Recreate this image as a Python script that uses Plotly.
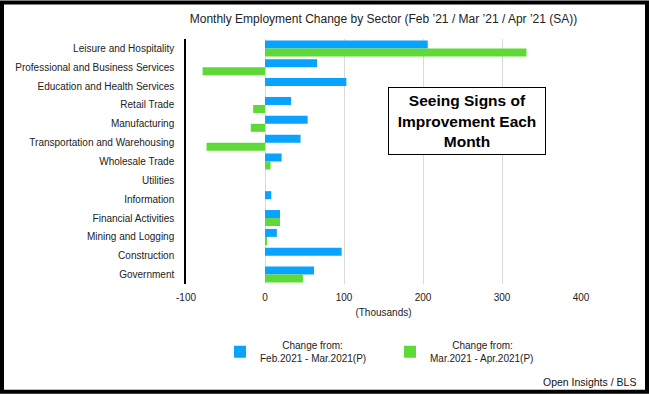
import plotly.graph_objects as go

categories = [
    "Leisure and Hospitality",
    "Professional and Business Services",
    "Education and Health Services",
    "Retail Trade",
    "Manufacturing",
    "Transportation and Warehousing",
    "Wholesale Trade",
    "Utilities",
    "Information",
    "Financial Activities",
    "Mining and Logging",
    "Construction",
    "Government",
]
feb_mar = [206, 66, 103, 33, 54, 45, 21, 0, 8, 19, 15, 97, 62]
mar_apr = [331, -79, 0, -15, -18, -74, 7, 0, 0, 19, 2, 0, 48]
x_ticks = [-100, 0, 100, 200, 300, 400]

FONT = "Liberation Sans, Arial, Helvetica, sans-serif"
W, H = 649, 394
L, R, T, B = 186, 68, 38.5, 110
PW, PH = W - L - R, H - T - B

def px_x(p):
    return (p - L) / PW

def px_y(p):
    return (H - B - p) / PH

NB = "\u00a0"
fig = go.Figure()
fig.add_trace(go.Bar(
    y=categories, x=feb_mar, orientation="h",
    name=NB * 8 + "Change from:<br>Feb.2021 - Mar.2021(P)",
    marker=dict(color="#08A2FF", line=dict(width=0)),
))
fig.add_trace(go.Bar(
    y=categories, x=mar_apr, orientation="h",
    name=NB * 8 + "Change from:<br>Mar.2021 - Apr.2021(P)",
    marker=dict(color="#5ED937", line=dict(width=0)),
))

fig.update_layout(
    width=W, height=H,
    margin=dict(l=L, r=R, t=T, b=B, autoexpand=False),
    paper_bgcolor="white", plot_bgcolor="white",
    font=dict(family=FONT, size=10, color="#222"),
    barmode="group", bargap=0.15, bargroupgap=0,
    title=dict(
        text="Monthly Employment Change by Sector (Feb \u201921 / Mar \u201921 / Apr \u201921 (SA))",
        font=dict(size=12, color="#222"),
        x=0.5, xref="paper", xanchor="center",
        y=1 - 19 / H, yref="container", yanchor="middle",
    ),
    xaxis=dict(
        range=[-100, 400], tickvals=x_ticks, ticktext=[str(v) for v in x_ticks],
        showgrid=True, gridcolor="#D9D9D9", gridwidth=1,
        zeroline=False, showline=False,
        ticks="", ticklabelstandoff=6,
        title=dict(text="(Thousands)", font=dict(size=10), standoff=6),
        fixedrange=True,
    ),
    yaxis=dict(
        autorange="reversed", showgrid=False, zeroline=False,
        showline=True, linecolor="black", linewidth=1.5,
        ticks="", ticklabelstandoff=8,
        fixedrange=True,
    ),
    legend=dict(
        orientation="h", x=px_x(220), xanchor="left",
        y=px_y(352), yanchor="middle",
        entrywidth=125, entrywidthmode="pixels",
        font=dict(size=10, color="#222"),
        bgcolor="rgba(0,0,0,0)", borderwidth=0,
        valign="middle",
    ),
    showlegend=True,
)

fig.add_annotation(
    x=256, xref="x", y=px_y(121), yref="paper",
    text="<b>Seeing Signs of<br>Improvement Each<br>Month</b>",
    showarrow=False, font=dict(size=15.5, color="black"),
    align="center", bgcolor="white",
    bordercolor="black", borderwidth=1, borderpad=3,
    width=150, height=60,
)
fig.add_annotation(
    x=px_x(638), xref="paper", xanchor="right",
    y=px_y(382), yref="paper", yanchor="middle",
    text="Open Insights / BLS", showarrow=False,
    font=dict(size=10.5, color="#111"),
)
fig.add_shape(
    type="rect", xref="paper", yref="paper",
    x0=px_x(2), x1=px_x(W - 2), y0=px_y(H - 2), y1=px_y(2),
    line=dict(color="black", width=4), fillcolor="rgba(0,0,0,0)",
    layer="above",
)

fig.write_html(
    "out.html",
    config={"displayModeBar": False},
    post_script="document.body.style.margin='0';document.body.style.overflow='hidden';",
)
